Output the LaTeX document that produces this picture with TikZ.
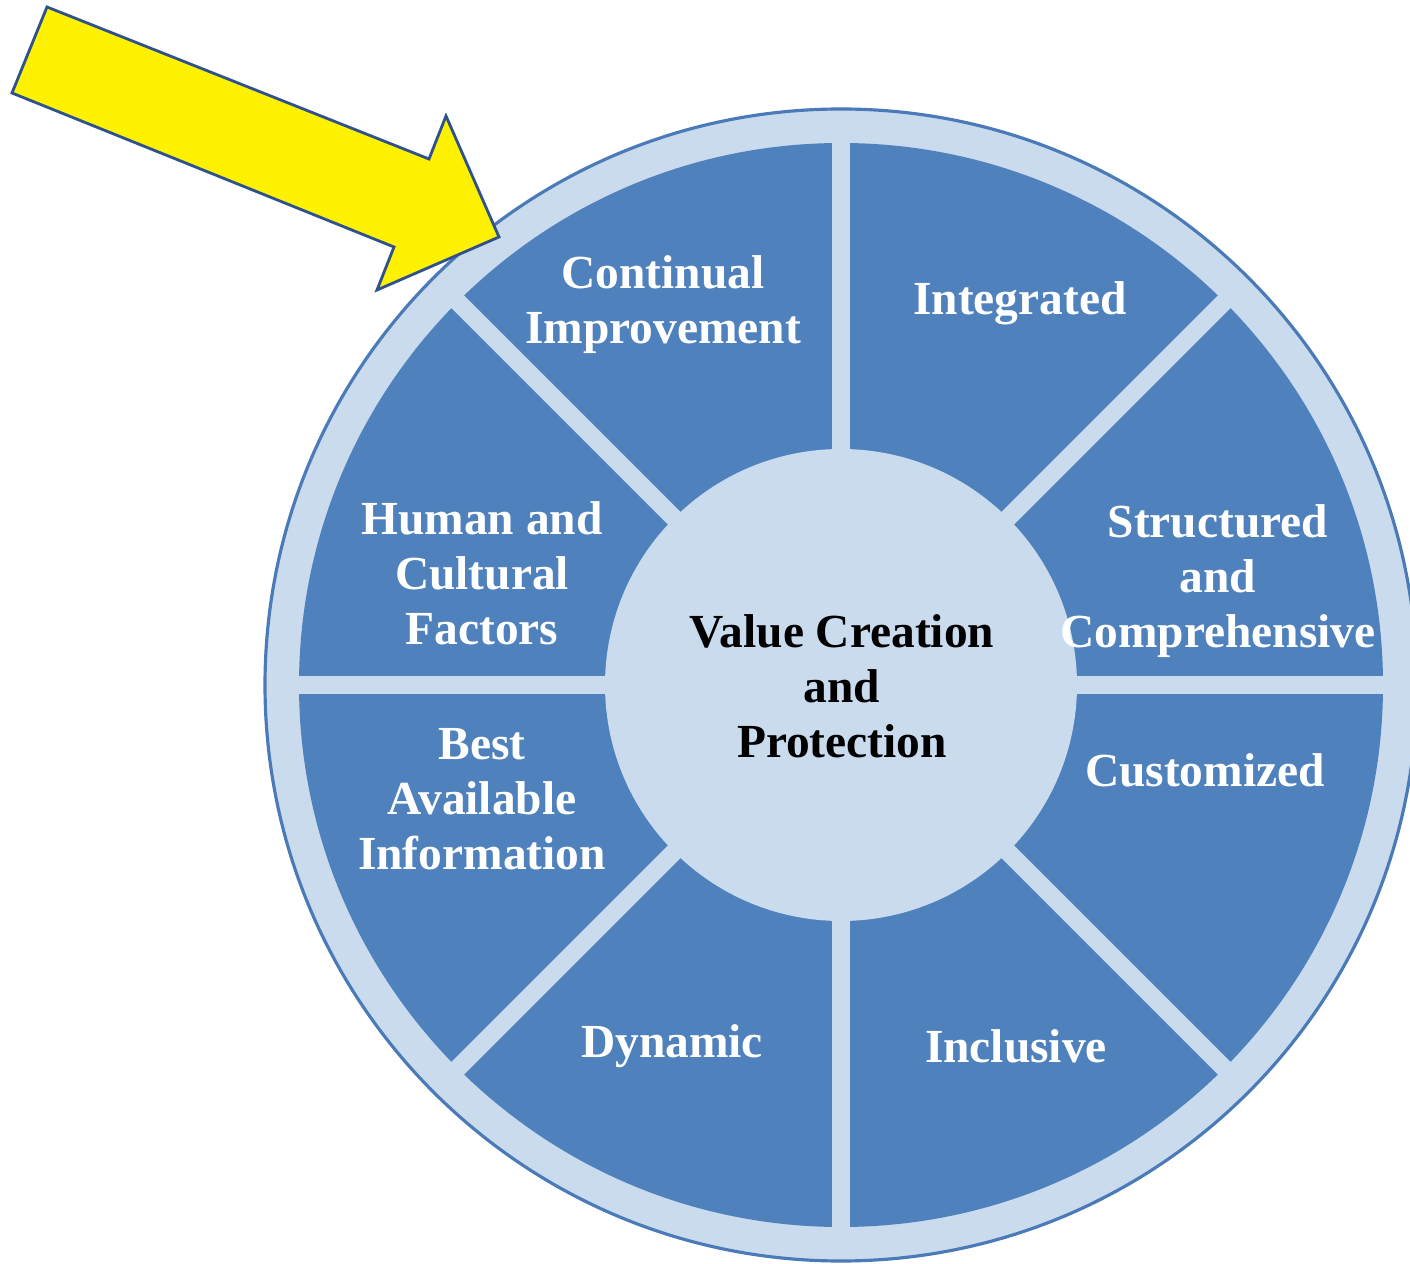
\documentclass[tikz,border=0pt]{standalone}
\usepackage{fontspec}
\setmainfont{Liberation Serif}
\definecolor{segblue}{RGB}{79,129,189}
\definecolor{ringblue}{RGB}{202,219,238}
\definecolor{rimblue}{RGB}{74,122,184}
\definecolor{arrowline}{RGB}{47,82,143}
\tikzset{
  seg/.style={text=white,font=\bfseries\fontsize{13.5}{15.6}\selectfont,align=center,inner sep=0pt},
  hub/.style={text=black,font=\bfseries\fontsize{13.5}{15.6}\selectfont,align=center,inner sep=0pt},
  gap/.style={draw=ringblue,line width=1.8mm},
  pointer/.style={fill=yellow,draw=arrowline,line width=0.8pt,line join=miter},
}
\begin{document}
\begin{tikzpicture}[x=0.1mm,y=0.1mm]
\def\ro{576}
\def\ri{542}
\def\rc{236}
\useasboundingbox (0,0) rectangle (1410,-1264);
\coordinate (c) at (841,-685);
% wheel
\draw[fill=ringblue,draw=rimblue,line width=0.9pt] (c) circle (\ro);
\fill[segblue] (c) circle (\ri);
\foreach \a in {0,45,90,135}
  \draw[gap,shift={(c)}] (\a:560) -- (\a+180:560);
\fill[ringblue] (c) circle (\rc);
% labels
\node[hub] (value) at (842,-686) {Value Creation\\and\\Protection};
\node[seg] (cont) at (663,-305) {Continual\\Improvement};
\node[seg] (integ) at (1020,-303) {Integrated};
\node[seg] (human) at (482,-573) {Human and\\Cultural\\Factors};
\node[seg] (struct) at (1218,-581) {Structured\\and\\Comprehensive};
\node[seg] (best) at (482,-799) {Best\\Available\\Information};
\node[seg] (custom) at (1205,-770) {Customized};
\node[seg] (dyn) at (672,-1046) {Dynamic};
\node[seg] (incl) at (1016,-1046) {Inclusive};
% pointer
\draw[pointer] (47,-7) -- (429,-159) -- (446,-116) -- (499,-237)
  -- (377,-290) -- (394,-247) -- (12,-93) -- cycle;
\end{tikzpicture}
\end{document}
